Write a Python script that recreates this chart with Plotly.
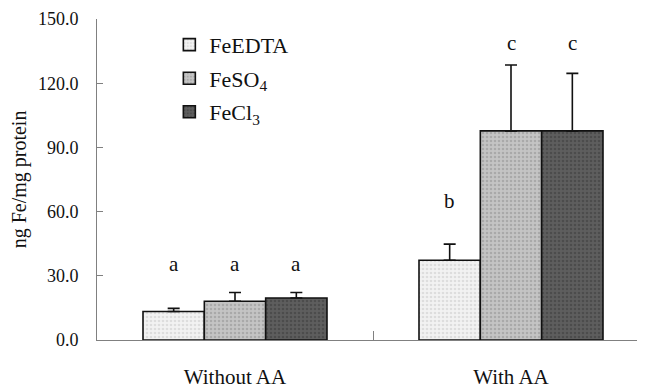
import plotly.graph_objects as go

categories = ["Without AA", "With AA"]
series_names = ["FeEDTA", "FeSO<sub>4</sub>", "FeCl<sub>3</sub>"]
values = {
    "FeEDTA": [13.3, 37.3],
    "FeSO4": [18.1, 97.7],
    "FeCl3": [19.6, 97.7],
}
errors = {
    "FeEDTA": [1.5, 7.5],
    "FeSO4": [4.1, 30.8],
    "FeCl3": [2.6, 26.9],
}
letters = {
    "FeEDTA": ["a", "b"],
    "FeSO4": ["a", "c"],
    "FeCl3": ["a", "c"],
}
letter_y = {
    "FeEDTA": [35.5, 65.0],
    "FeSO4": [35.5, 139.0],
    "FeCl3": [35.5, 139.0],
}
y_ticks = [0, 30, 60, 90, 120, 150]

keys = ["FeEDTA", "FeSO4", "FeCl3"]
fills = {"FeEDTA": ("#f2f2f2", "#c8c8c8"),
         "FeSO4": ("#c4c4c4", "#8e8e8e"),
         "FeCl3": ("#5e5e5e", "#3a3a3a")}

FONT = "Liberation Serif"
fig = go.Figure()
for k, name in zip(keys, series_names):
    bg, fg = fills[k]
    fig.add_trace(go.Bar(
        x=categories, y=values[k], name=name, legendgroup=k,
        marker=dict(color=bg, line=dict(color="#111111", width=1.6),
                    pattern=dict(shape=".", fgcolor=fg, bgcolor=bg, size=4, solidity=0.35)),
        error_y=dict(type="data", array=errors[k], arrayminus=[0] * len(categories),
                     symmetric=False, color="#111111", thickness=1.6, width=6),
    ))

bargap = 1 / 3
bar_w = (1 - bargap) / len(keys)
annotations = []
for i, k in enumerate(keys):
    off = (i - (len(keys) - 1) / 2) * bar_w
    for j in range(len(categories)):
        annotations.append(dict(x=j + off, y=letter_y[k][j], xref="x", yref="y",
                                text=letters[k][j], showarrow=False,
                                font=dict(family=FONT, size=21, color="#111111")))

# the page body adds an 8px margin, so the figure is sized to fit the window
fig.update_layout(
    width=637, height=381,
    margin=dict(l=89, r=0, t=11, b=44),
    plot_bgcolor="white", paper_bgcolor="white",
    barmode="group", bargap=bargap, bargroupgap=0,
    font=dict(family=FONT, size=18, color="#111111"),
    showlegend=True,
    legend=dict(x=0.132, y=0.985, xanchor="left", yanchor="top",
                font=dict(family=FONT, size=22), traceorder="grouped",
                tracegroupgap=2, bgcolor="rgba(0,0,0,0)"),
    annotations=annotations,
)
fig.update_xaxes(type="category", range=[-0.5, 1.4855], showline=True, linecolor="#808080",
                 linewidth=1, ticks="inside", tickson="boundaries", ticklen=9,
                 tickcolor="#808080", tickfont=dict(family=FONT, size=21), showgrid=False,
                 zeroline=False, ticklabelstandoff=18)
fig.update_yaxes(range=[0, 150], tickvals=y_ticks, tickformat=".1f", showline=True,
                 linecolor="#808080", linewidth=1, ticks="inside", ticklen=6,
                 tickcolor="#808080", tickfont=dict(family=FONT, size=18), showgrid=False,
                 zeroline=False, ticklabelstandoff=14,
                 title=dict(text="ng Fe/mg protein", font=dict(family=FONT, size=20), standoff=5))

fig.write_html("out.html")
